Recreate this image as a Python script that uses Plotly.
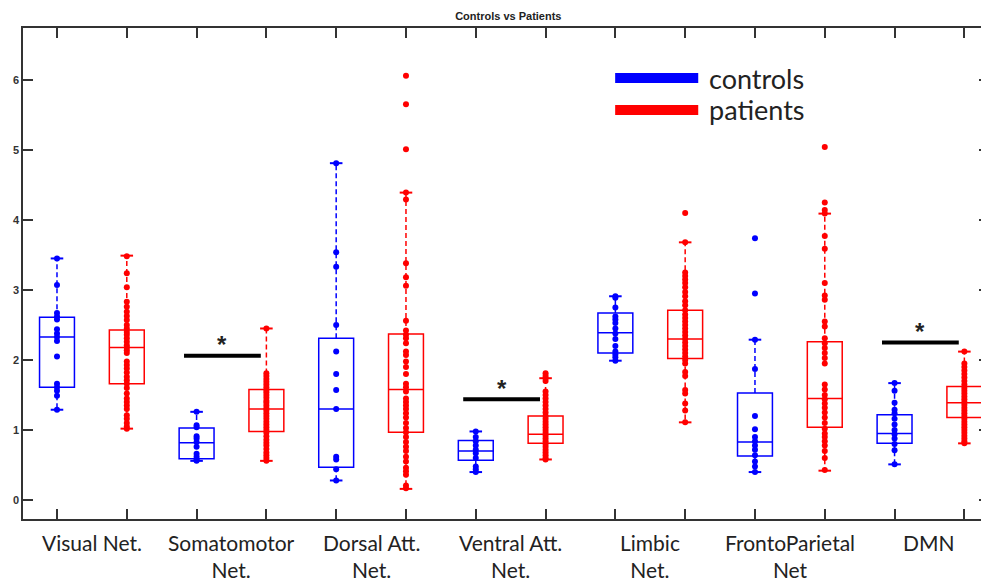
import plotly.graph_objects as go

# ---------------- data ----------------
networks = ["Visual Net.", "Somatomotor<br>Net.", "Dorsal Att.<br>Net.", "Ventral Att.<br>Net.",
            "Limbic<br>Net.", "FrontoParietal<br>Net", "DMN"]
ctrl_pos = [1, 3, 5, 7, 9, 11, 13]
pat_pos = [2, 4, 6, 8, 10, 12, 14]
y_ticks = [0, 1, 2, 3, 4, 5, 6]

ctrl_q1 = [1.61, 0.59, 0.47, 0.57, 2.10, 0.63, 0.81]
ctrl_med = [2.33, 0.82, 1.30, 0.70, 2.39, 0.83, 0.95]
ctrl_q3 = [2.61, 1.03, 2.31, 0.85, 2.67, 1.53, 1.22]
ctrl_lo = [1.29, 0.56, 0.28, 0.40, 1.99, 0.40, 0.51]
ctrl_hi = [3.45, 1.26, 4.81, 0.98, 2.91, 2.29, 1.67]

pat_q1 = [1.66, 0.98, 0.97, 0.81, 2.02, 1.04, 1.18]
pat_med = [2.18, 1.30, 1.58, 0.94, 2.30, 1.45, 1.39]
pat_q3 = [2.43, 1.58, 2.37, 1.20, 2.71, 2.26, 1.62]
pat_lo = [1.02, 0.56, 0.16, 0.58, 1.11, 0.42, 0.81]
pat_hi = [3.49, 2.45, 4.39, 1.74, 3.68, 4.09, 2.12]

ctrl_visual = [3.45, 3.07, 2.67, 2.62, 2.58, 2.44, 2.38, 2.33, 2.27, 2.05, 1.66, 1.61, 1.56, 1.49, 1.29]
ctrl_somato = [1.26, 1.07, 1.04, 0.91, 0.88, 0.83, 0.76, 0.66, 0.62, 0.58, 0.56]
ctrl_dorsal = [4.81, 3.54, 3.33, 2.50, 2.12, 1.80, 1.57, 1.30, 0.62, 0.58, 0.44, 0.28]
ctrl_ventral = [0.98, 0.90, 0.84, 0.78, 0.72, 0.67, 0.60, 0.48, 0.44, 0.40]
ctrl_limbic = [2.91, 2.89, 2.75, 2.62, 2.58, 2.53, 2.45, 2.38, 2.30, 2.20, 2.12, 2.08, 2.04, 1.99]
ctrl_fp = [3.74, 2.95, 2.29, 1.87, 1.20, 1.01, 0.90, 0.84, 0.78, 0.72, 0.64, 0.55, 0.48, 0.40]
ctrl_dmn = [1.67, 1.56, 1.39, 1.29, 1.24, 1.16, 1.08, 1.00, 0.94, 0.88, 0.80, 0.71, 0.51]

pat_visual = [3.48, 3.24, 3.04, 2.83, 2.76, 2.69, 2.63, 2.57, 2.50, 2.45, 2.40, 2.36, 2.31, 2.26, 2.21,
              2.18, 2.14, 2.10, 1.98, 1.93, 1.88, 1.82, 1.76, 1.71, 1.66, 1.60, 1.52, 1.45, 1.40, 1.35,
              1.30, 1.21, 1.16, 1.10, 1.05, 1.02]
pat_somato = [2.45, 1.81, 1.77, 1.73, 1.69, 1.65, 1.61, 1.57, 1.54, 1.50, 1.46, 1.42, 1.39, 1.35, 1.31,
              1.28, 1.24, 1.20, 1.16, 1.12, 1.08, 1.04, 1.00, 0.96, 0.91, 0.86, 0.82, 0.78, 0.73, 0.68,
              0.64, 0.60, 0.56]
pat_dorsal = [6.06, 5.65, 5.01, 4.39, 4.29, 3.38, 3.18, 3.06, 2.56, 2.42, 2.36, 2.31, 2.24, 2.12, 2.07,
              1.98, 1.90, 1.80, 1.66, 1.61, 1.55, 1.45, 1.40, 1.35, 1.30, 1.24, 1.18, 1.10, 1.03, 0.97,
              0.90, 0.83, 0.76, 0.70, 0.62, 0.55, 0.46, 0.41, 0.36, 0.21, 0.17]
pat_ventral = [1.81, 1.77, 1.74, 1.70, 1.55, 1.50, 1.45, 1.40, 1.35, 1.30, 1.25, 1.20, 1.16, 1.12, 1.08,
               1.04, 1.00, 0.96, 0.92, 0.88, 0.84, 0.80, 0.76, 0.72, 0.68, 0.64, 0.60, 0.58]
pat_limbic = [4.10, 3.68, 3.25, 3.20, 3.15, 3.10, 3.04, 2.97, 2.91, 2.84, 2.78, 2.71, 2.65, 2.60, 2.55,
              2.50, 2.45, 2.40, 2.35, 2.30, 2.25, 2.20, 2.15, 2.10, 2.05, 2.00, 1.95, 1.83, 1.77, 1.57,
              1.52, 1.38, 1.28, 1.11]
pat_fp = [5.04, 4.25, 4.14, 4.09, 3.77, 3.59, 3.10, 2.92, 2.86, 2.55, 2.48, 2.31, 2.24, 2.17, 2.10,
          2.03, 1.95, 1.65, 1.58, 1.50, 1.44, 1.38, 1.32, 1.25, 1.18, 1.10, 1.02, 0.95, 0.90, 0.84,
          0.78, 0.70, 0.60, 0.43]
pat_dmn = [2.12, 1.95, 1.90, 1.85, 1.80, 1.75, 1.70, 1.65, 1.60, 1.56, 1.52, 1.48, 1.44, 1.40, 1.36,
           1.32, 1.28, 1.24, 1.20, 1.16, 1.12, 1.08, 1.04, 1.00, 0.96, 0.92, 0.88, 0.84, 0.81]

ctrl_points = [ctrl_visual, ctrl_somato, ctrl_dorsal, ctrl_ventral, ctrl_limbic, ctrl_fp, ctrl_dmn]
pat_points = [pat_visual, pat_somato, pat_dorsal, pat_ventral, pat_limbic, pat_fp, pat_dmn]

# significant pairs (index of network) and bar heights
sig_idx = [1, 3, 6]
sig_y = [2.06, 1.44, 2.25]

BLUE = "#0000FF"
RED = "#FF0000"
AX = "#333333"

fig = go.Figure()


def add_group(pos, q1, med, q3, lo, hi, pts, color, name):
    fig.add_trace(go.Box(
        x=pos, q1=q1, median=med, q3=q3, lowerfence=q1, upperfence=q3,
        width=0.5, whiskerwidth=0, fillcolor="rgba(0,0,0,0)",
        line=dict(color=color, width=1.5), boxpoints=False,
        name=name, showlegend=False, hoverinfo="skip"))
    wx, wy, cx, cy = [], [], [], []
    for p, a, b, l, h in zip(pos, q1, q3, lo, hi):
        wx += [p, p, None, p, p, None]
        wy += [b, h, None, a, l, None]
        cx += [p - 0.09, p + 0.09, None, p - 0.09, p + 0.09, None]
        cy += [h, h, None, l, l, None]
    fig.add_trace(go.Scatter(x=wx, y=wy, mode="lines",
                             line=dict(color=color, width=1.5, dash="5px,3px"),
                             showlegend=False, hoverinfo="skip"))
    fig.add_trace(go.Scatter(x=cx, y=cy, mode="lines",
                             line=dict(color=color, width=2),
                             showlegend=False, hoverinfo="skip"))
    px, py = [], []
    for p, vals in zip(pos, pts):
        px += [p] * len(vals)
        py += vals
    fig.add_trace(go.Scatter(x=px, y=py, mode="markers",
                             marker=dict(color=color, size=6),
                             showlegend=False, hoverinfo="skip"))


add_group(ctrl_pos, ctrl_q1, ctrl_med, ctrl_q3, ctrl_lo, ctrl_hi, ctrl_points, BLUE, "controls")
add_group(pat_pos, pat_q1, pat_med, pat_q3, pat_lo, pat_hi, pat_points, RED, "patients")

# significance bars
for i, yv in zip(sig_idx, sig_y):
    x0 = ctrl_pos[i] - 0.18
    x1 = pat_pos[i] - 0.08
    fig.add_shape(type="line", x0=x0, x1=x1, y0=yv, y1=yv, xref="x", yref="y",
                  line=dict(color="black", width=4))
    fig.add_annotation(x=(x0 + x1) / 2, y=yv, xref="x", yref="y", text="<b>*</b>",
                       showarrow=False, yshift=11, font=dict(size=24, color="#222222",
                                                              family="Liberation Sans"))

# category labels
for i, lab in enumerate(networks):
    fig.add_annotation(x=(ctrl_pos[i] + pat_pos[i]) / 2, y=0, xref="x", yref="paper",
                       text=lab, showarrow=False, yanchor="top", yshift=-9,
                       font=dict(size=21, color="#222222", family="Lato"))

# legend drawn manually
leg = [("controls", BLUE, 0.898), ("patients", RED, 0.833)]
for name, col, yp in leg:
    fig.add_shape(type="line", xref="paper", yref="paper", x0=0.613, x1=0.699, y0=yp, y1=yp,
                  line=dict(color=col, width=10))
    fig.add_annotation(xref="paper", yref="paper", x=0.708, y=yp, xanchor="left", yanchor="middle",
                       text=name, showarrow=False,
                       font=dict(size=27, color="#222222", family="Lato"))

# the page body adds an 8px offset, so the figure is 8px smaller on each side
fig.update_layout(
    width=981, height=573,
    margin=dict(l=15, r=0, t=20, b=62, autoexpand=False),
    paper_bgcolor="white", plot_bgcolor="white",
    boxmode="overlay",
    showlegend=False,
    title=dict(text="<b>Controls vs Patients</b>", x=0.51, xanchor="center", y=0.986,
               yanchor="middle", font=dict(size=11, color="#222222", family="Liberation Sans")),
)
fig.update_xaxes(range=[0.513, 14.353], tickvals=ctrl_pos + pat_pos, ticktext=[""] * 14,
                 ticks="inside", ticklen=10, tickwidth=1.5, tickcolor=AX, automargin=False,
                 showline=True, linecolor=AX, linewidth=1.5, mirror="ticks",
                 showgrid=False, zeroline=False)
fig.update_yaxes(range=[-0.27, 6.74], tickvals=y_ticks,
                 ticktext=["<b>%d</b>" % v for v in y_ticks], automargin=False,
                 ticks="inside", ticklen=10, tickwidth=1.5, tickcolor=AX,
                 tickfont=dict(size=11, color="#333333", family="Liberation Sans"),
                 showline=True, linecolor=AX, linewidth=1.5, mirror="ticks",
                 showgrid=False, zeroline=False)

fig.write_html("out.html")
